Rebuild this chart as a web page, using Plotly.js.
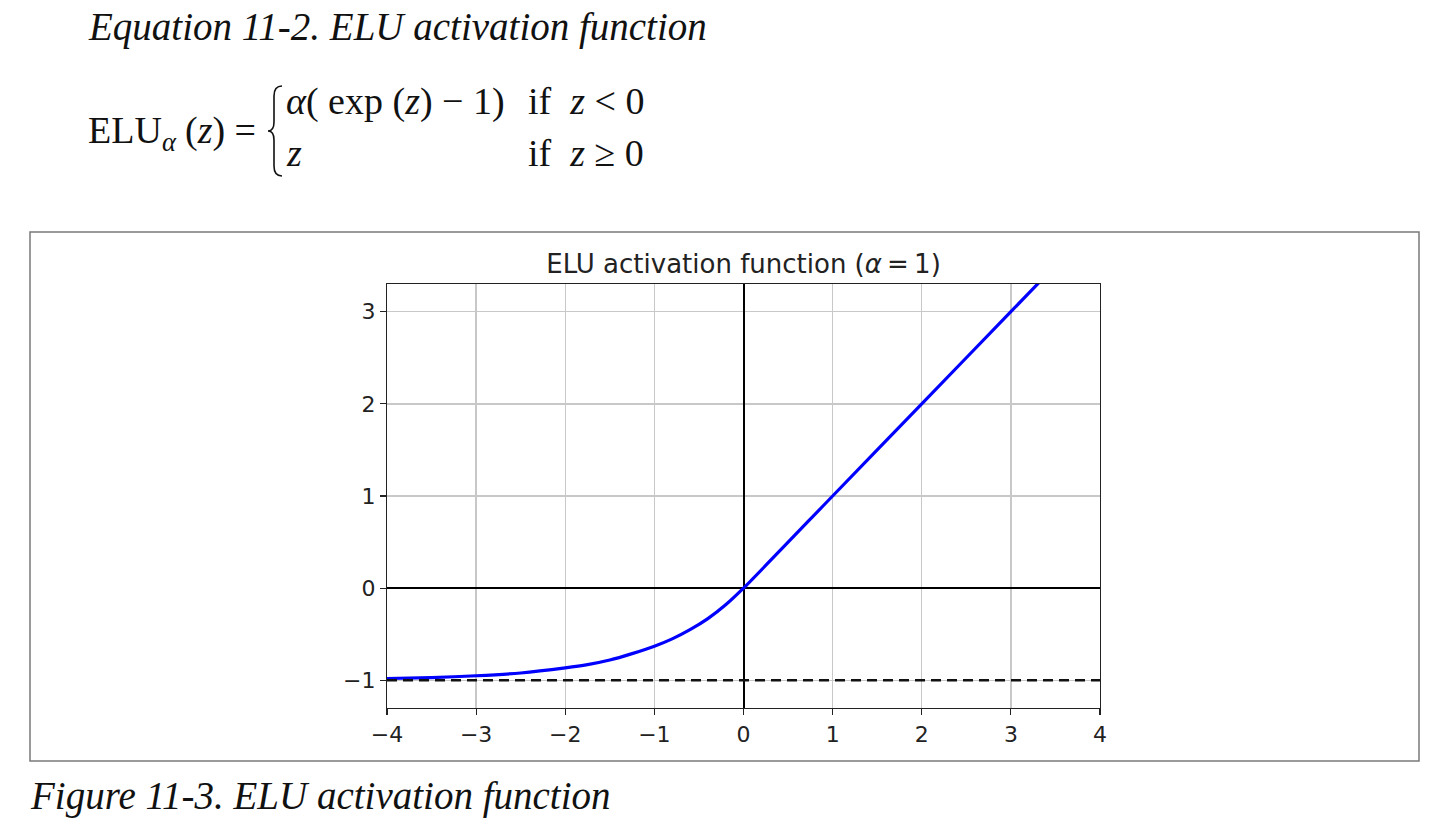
<!DOCTYPE html>
<html>
<head>
<meta charset="utf-8">
<script src="https://cdn.plot.ly/plotly-3.0.1.min.js"></script>
<style>html,body{margin:0;padding:0;background:#fff;}#chart{width:1446px;height:824px;}</style>
</head>
<body>
<div id="chart"></div>
<script>
// Values
const z = [-4, -3.5, -3, -2.5, -2, -1.75, -1.5, -1.25, -1, -0.8, -0.6, -0.4, -0.2, 0, 1, 2, 3, 4];
const elu = [-0.98, -0.97, -0.95, -0.92, -0.865, -0.83, -0.78, -0.71, -0.63, -0.55, -0.45, -0.33, -0.18, 0, 1, 2, 3, 4];
const dashX = [-4, 4];
const dashY = [-1, -1];
const xTicks = [-4, -3, -2, -1, 0, 1, 2, 3, 4];
const yTicks = [-1, 0, 1, 2, 3];
const xRange = [-4, 4];
const yRange = [-1.3, 3.3];

// pixel -> paper helpers (plot area: x 387..1100, y 284..708)
const L = 387, R = 1100, T = 284, B = 708;
const px = v => (v - L) / (R - L);
const py = v => (B - v) / (B - T);

const serif = 'Liberation Serif, Times New Roman, serif';
const eqSize = 38;
const tickFont = {family: 'DejaVu Sans', size: 22, color: '#222'};

const traces = [
  {x: z, y: elu, mode: 'lines', line: {color: '#0000ff', width: 3.2, shape: 'spline', smoothing: 0.6}, hoverinfo: 'skip', showlegend: false},
  {x: dashX, y: dashY, mode: 'lines', line: {color: '#111', width: 2.5, dash: '10px,6px'}, hoverinfo: 'skip', showlegend: false}
];

const ann = (text, x, y, size, extra) => Object.assign({
  text: text, xref: 'paper', yref: 'paper', x: px(x), y: py(y),
  xanchor: 'left', yanchor: 'middle', showarrow: false,
  font: {family: serif, size: size, color: '#111'}
}, extra || {});

const bx0 = px(282), bx1 = px(274), bx2 = px(268);
const by = v => py(v);
const bracePath = `M ${bx0},${by(86)} Q ${bx1},${by(86)} ${bx1},${by(96)} L ${bx1},${by(122)} Q ${bx1},${by(131)} ${bx2},${by(131)} Q ${bx1},${by(131)} ${bx1},${by(140)} L ${bx1},${by(166)} Q ${bx1},${by(176)} ${bx0},${by(176)}`;

const minusLabel = v => v < 0 ? '−' + Math.abs(v) : String(v);

const layout = {
  width: 1446, height: 824, autosize: false,
  margin: {l: L, r: 1446 - R, t: T, b: 824 - B, pad: 0},
  paper_bgcolor: '#fff', plot_bgcolor: '#fff',
  title: {
    text: 'ELU activation function (<i>α</i>\u2009=\u20091)',
    font: {family: 'DejaVu Sans', size: 26, color: '#222'},
    x: 0.5, xref: 'paper', xanchor: 'center',
    y: 1 - 264 / 824, yref: 'container', yanchor: 'middle'
  },
  xaxis: {
    range: xRange, tickvals: xTicks, ticktext: xTicks.map(minusLabel),
    showgrid: true, gridcolor: '#c8c8c8', gridwidth: 1.4,
    zeroline: true, zerolinecolor: '#000', zerolinewidth: 2,
    showline: true, mirror: true, linecolor: '#222', linewidth: 1.2,
    ticks: 'outside', ticklen: 6, tickcolor: '#222', tickwidth: 1.2,
    tickfont: tickFont, fixedrange: true
  },
  yaxis: {
    range: yRange, tickvals: yTicks, ticktext: yTicks.map(minusLabel),
    showgrid: true, gridcolor: '#c8c8c8', gridwidth: 1.4,
    zeroline: true, zerolinecolor: '#000', zerolinewidth: 2,
    showline: true, mirror: true, linecolor: '#222', linewidth: 1.2,
    ticks: 'outside', ticklen: 6, tickcolor: '#222', tickwidth: 1.2,
    tickfont: tickFont, fixedrange: true
  },
  shapes: [
    {type: 'rect', xref: 'paper', yref: 'paper', x0: px(30), x1: px(1419), y0: py(761), y1: py(232),
     line: {color: '#7a7a7a', width: 1.5}, fillcolor: 'rgba(0,0,0,0)', layer: 'below'},
    {type: 'path', xref: 'paper', yref: 'paper', path: bracePath, line: {color: '#111', width: 1.6}}
  ],
  annotations: [
    ann('<i>Equation 11-2. ELU activation function</i>', 86, 27, 39),
    ann('ELU<sub><i>α</i></sub>', 86, 133, eqSize),
    ann('(<i>z</i>) =', 183, 130, eqSize),
    ann('<i>α</i>( exp (<i>z</i>) − 1)', 284, 101, eqSize),
    ann('if  <i>z</i> &lt; 0', 526, 101, eqSize),
    ann('<i>z</i>', 284, 153, eqSize),
    ann('if  <i>z</i> ≥ 0', 526, 153, eqSize),
    ann('<i>Figure 11-3. ELU activation function</i>', 28, 796, 39)
  ]
};

Plotly.newPlot('chart', traces, layout, {displayModeBar: false, staticPlot: true});
</script>
</body>
</html>
